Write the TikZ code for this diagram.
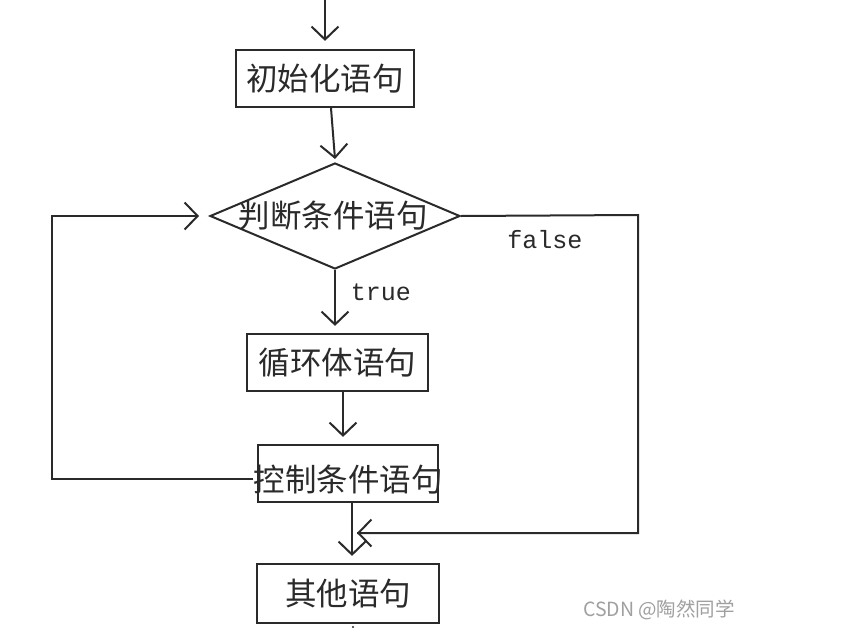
\documentclass[tikz,border=0pt]{standalone}
\usepackage{fontspec}
\usetikzlibrary{arrows.meta,shapes.geometric,calc}
\newfontfamily\cjk{Noto Sans CJK SC}
\newfontfamily\mono{Liberation Mono}
\definecolor{ink}{HTML}{2A2A2A}
\definecolor{wm}{HTML}{A0A0A0}
\tikzset{
  line/.style={draw=ink, line width=2pt},
  arr/.style={line, -{Straight Barb[length=13pt,width=27pt]}},
  boxnode/.style={draw=ink, line width=2.2pt, rectangle, inner sep=0pt},
  lbl/.style={font=\cjk\fontsize{31.5}{31.5}\selectfont, text=ink, inner sep=0pt},
  cond/.style={font=\mono\fontsize{25}{25}\selectfont, text=ink, inner sep=0pt},
}
\begin{document}
\begin{tikzpicture}[x=1pt,y=-1pt]
\useasboundingbox (0,0) rectangle (868,632);
\fill[white] (0,0) rectangle (868,632);

% nodes
\coordinate (top) at (325,0);
\node[boxnode, minimum width=178pt, minimum height=57pt] (b1) at (325,78.5) {};
\node[lbl] (t1) at (b1.center) {初始化语句};

\node[draw=ink, line width=2pt, diamond, minimum width=250pt, minimum height=106pt, inner sep=0pt] (d) at (335,216) {};
\node[lbl] (td) at (333,216) {判断条件语句};

\node[boxnode, minimum width=181pt, minimum height=57pt] (b2) at (337.5,362.5) {};
\node[lbl] (t2) at (b2.center) {循环体语句};

\node[boxnode, minimum width=180pt, minimum height=57pt] (b3) at (348,473.5) {};
\node[lbl] (t3) at (348,480) {控制条件语句};

\node[boxnode, minimum width=182pt, minimum height=59pt] (b4) at (348,593.5) {};
\node[lbl] (t4) at (b4.center) {其他语句};

\node[cond] (ltrue) at (381,292) {true};
\node[cond] (lfalse) at (545,240) {false};

\node[font=\cjk\fontsize{19.5}{19.5}\selectfont, text=wm, inner sep=0pt] (wmk) at (659,610) {CSDN @陶然同学};

% helper coordinates
\coordinate (lp) at (52,479);
\coordinate (fr) at (638,215);
\coordinate (fb) at (357,533);

% connectors
\draw[arr] (top) -- ([yshift=8pt]b1.north);
\draw[arr] ([xshift=6pt]b1.south) -- ([yshift=3pt]d.north);
\draw[arr] (d.south) -- ([yshift=7pt]d.south |- b2.north);
\draw[arr] ([xshift=5.5pt]b2.south) coordinate (s2) -- ([yshift=7pt]s2 |- b3.north);
\draw[arr] ([xshift=4pt]b3.south) coordinate (s3) -- ([yshift=7pt]s3 |- b4.north);
\draw[arr] (t3.west |- lp) -- (lp) |- ([xshift=-10pt]d.west);
\draw[line] (d.east) -- (fr) -- (fr |- fb) -- (fb);
\draw[arr] (fr |- fb) -- (fb);

\fill[ink] (353,627) circle (1.2pt);
\end{tikzpicture}
\end{document}
